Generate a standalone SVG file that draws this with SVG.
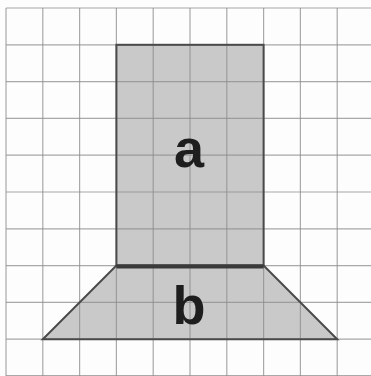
<svg xmlns="http://www.w3.org/2000/svg" width="371" height="376" viewBox="0 0 371 376">
<style>
.grid line{stroke:#8c8c8c;stroke-width:1.2;stroke-opacity:0.75}
.shape{fill:#c9c9c9;stroke:#4a4a4a;stroke-width:2;stroke-linejoin:miter}
.lbl{font-family:"Liberation Sans",Arial,sans-serif;font-weight:bold;font-size:54px;fill:#1e1e1e;text-anchor:middle}
</style>
<rect width="371" height="376" fill="#fdfdfd"/>
<g id="fills">
<rect x="116.4" y="44.8" width="147.2" height="220.8" fill="#c9c9c9"/>
<polygon points="116.4,265.6 263.6,265.6 337.2,339.2 42.8,339.2" fill="#c9c9c9"/>
</g>
<g class="grid">
<line x1="6" y1="8" x2="6" y2="376"/>
<line x1="42.8" y1="8" x2="42.8" y2="376"/>
<line x1="79.6" y1="8" x2="79.6" y2="376"/>
<line x1="116.4" y1="8" x2="116.4" y2="376"/>
<line x1="153.2" y1="8" x2="153.2" y2="376"/>
<line x1="190" y1="8" x2="190" y2="376"/>
<line x1="226.8" y1="8" x2="226.8" y2="376"/>
<line x1="263.6" y1="8" x2="263.6" y2="376"/>
<line x1="300.4" y1="8" x2="300.4" y2="376"/>
<line x1="337.2" y1="8" x2="337.2" y2="376"/>
<line x1="6" y1="8" x2="371" y2="8"/>
<line x1="6" y1="44.8" x2="371" y2="44.8"/>
<line x1="6" y1="81.6" x2="371" y2="81.6"/>
<line x1="6" y1="118.4" x2="371" y2="118.4"/>
<line x1="6" y1="155.2" x2="371" y2="155.2"/>
<line x1="6" y1="192" x2="371" y2="192"/>
<line x1="6" y1="228.8" x2="371" y2="228.8"/>
<line x1="6" y1="265.6" x2="371" y2="265.6"/>
<line x1="6" y1="302.4" x2="371" y2="302.4"/>
<line x1="6" y1="339.2" x2="371" y2="339.2"/>
<line x1="6" y1="375.5" x2="371" y2="375.5"/>
</g>
<g id="node-a">
<rect class="shape" x="116.4" y="44.8" width="147.2" height="220.8" fill="none" style="fill:none"/>
<text class="lbl" x="189" y="167">a</text>
</g>
<g id="node-b">
<polygon class="shape" points="116.4,265.6 263.6,265.6 337.2,339.2 42.8,339.2" style="fill:none"/>
<line x1="116.4" y1="266.5" x2="263.6" y2="266.5" stroke="#3a3a3a" stroke-width="4"/>
<text class="lbl" x="189" y="324">b</text>
</g>
</svg>
